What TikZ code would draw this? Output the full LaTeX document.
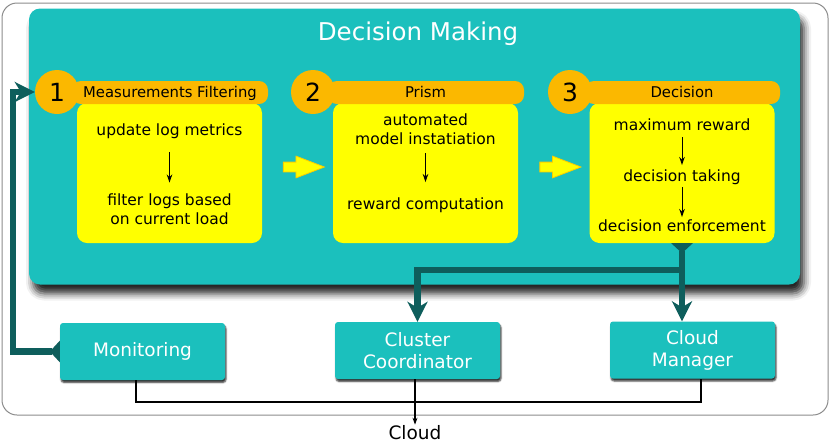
\documentclass[tikz,border=0pt]{standalone}
\usepackage{fontspec}
\setmainfont{DejaVu Sans}
\usetikzlibrary{arrows.meta, positioning, calc, shapes.arrows, shadows.blur}
\definecolor{dmteal}{HTML}{1BC0BD}
\definecolor{linkteal}{HTML}{0E5E5C}
\definecolor{stageyellow}{HTML}{FFFF00}
\definecolor{headorange}{HTML}{FBB800}
\definecolor{framegray}{HTML}{8C8C8C}

\begin{document}
\begin{tikzpicture}[x=1pt, y=-1pt,
  outerframe/.style={draw=framegray, line width=1pt, rounded corners=15pt, minimum width=826pt, minimum height=412pt, inner sep=0pt},
  dmbox/.style={fill=dmteal, rounded corners=11pt, minimum width=771pt, minimum height=276pt, inner sep=0pt,
    blur shadow={shadow xshift=4pt, shadow yshift=-9pt, shadow blur radius=7pt, shadow opacity=85}},
  dmtitle/.style={text=white, font=\fontsize{24.5}{29}\selectfont, anchor=base},
  stagebox/.style={fill=stageyellow, rounded corners=10pt, minimum width=185pt, minimum height=140pt, inner sep=0pt},
  headbar/.style={fill=headorange, rounded corners=9pt, minimum height=23pt, inner sep=0pt},
  numcircle/.style={circle, fill=headorange, minimum size=44pt, inner sep=0pt, font=\fontsize{25}{30}\selectfont},
  headtext/.style={font=\fontsize{14.8}{18}\selectfont, anchor=base, inner sep=0pt},
  steptext/.style={font=\fontsize{15.5}{18.5}\selectfont, align=center, anchor=base, inner sep=0pt},
  stepflow/.style={-{Stealth[length=8pt, width=5.5pt]}, line width=1pt},
  fatarrow/.style={single arrow, fill=stageyellow, draw=headorange!70!stageyellow, line width=0.8pt,
    text height=4.5pt, text depth=4.5pt, minimum height=41pt, single arrow head extend=6pt,
    single arrow tip angle=42, inner sep=0pt},
  unitbox/.style={fill=dmteal, rounded corners=3pt, minimum width=165pt, minimum height=57pt, text=white, align=center,
    font=\fontsize{18.5}{22}\selectfont,
    blur shadow={shadow xshift=1pt, shadow yshift=-2.5pt, shadow blur radius=1.5pt, shadow opacity=80}},
  bigconn/.style={draw=linkteal, line width=6.5pt},
  headtip/.style={-{Stealth[length=20pt, width=20pt, inset=6pt]}},
  tailtip/.style={{Triangle[reversed, length=10pt, width=21pt]}-{Stealth[length=20pt, width=20pt, inset=6pt]}},
  busline/.style={line width=1.3pt},
  cloudtext/.style={font=\fontsize{18.5}{22}\selectfont, inner sep=1pt}
]
  \useasboundingbox (0,0) rectangle (830,445);
  \node[outerframe] (frame) at (415,209) {};
  \node[dmbox] (dm) at (414.5,146.5) {};
  \node[dmtitle] (dmt) at (418,40) {Decision Making};

  % stage 1
  \node[stagebox] (box1) at (169.5,173) {};
  \node[headbar, minimum width=196pt] (bar1) at (170,92.5) {};
  \node[numcircle] (c1) at (57,92) {1};
  \node[headtext] (h1) at (170,97) {Measurements Filtering};
  \node[steptext] (t11) at (169.5,135) {update log metrics};
  \node[steptext] (t12) at (169.5,224) {filter logs based\\on current load};
  \draw[stepflow, shorten <=14pt, shorten >=11pt] (t11) -- (t12);

  % stage 2
  \node[stagebox] (box2) at (425.5,173) {};
  \node[headbar, minimum width=196pt] (bar2) at (426,92.5) {};
  \node[numcircle] (c2) at (313,92) {2};
  \node[headtext] (h2) at (425.5,97) {Prism};
  \node[steptext] (t21) at (425.5,144) {automated\\model instatiation};
  \node[steptext] (t22) at (425.5,209) {reward computation};
  \draw[stepflow, shorten <=9pt, shorten >=15pt] (t21) -- (t22);

  % stage 3
  \node[stagebox] (box3) at (682,173) {};
  \node[headbar, minimum width=195pt] (bar3) at (682.5,92.5) {};
  \node[numcircle] (c3) at (570,92) {3};
  \node[headtext] (h3) at (682,97) {Decision};
  \node[steptext] (t31) at (682,130) {maximum reward};
  \node[steptext] (t32) at (682,181) {decision taking};
  \node[steptext] (t33) at (682,231) {decision enforcement};
  \draw[stepflow, shorten <=7pt, shorten >=4pt] (t31) -- (t32);
  \draw[stepflow, shorten <=3pt, shorten >=2pt] (t32) -- (t33);

  \node[fatarrow] (fa1) at (297.5,167) {};
  \node[fatarrow] (fa2) at (554,167) {};

  \node[unitbox] (mon) at (142.5,351.5) {Monitoring};
  \node[unitbox] (cc) at (417.5,350.5) {Cluster\\Coordinator};
  \node[unitbox] (cm) at (692.5,350) {Cloud\\Manager};
  \node[cloudtext] (cloud) at (415,433) {Cloud};

  \coordinate (split) at ($(box3.south)+(0,27)$);
  \coordinate (leftrail) at (13,220);
  \draw[bigconn, tailtip] (box3.south) -- (box3.south |- cm.north);
  \draw[bigconn, headtip] (split) -| (cc.north);
  \draw[bigconn, tailtip] (mon.west) -- (mon.west -| leftrail) |- (c1.west);

  \coordinate (busjoin) at (415,402);
  \draw[busline] ([xshift=-6.5pt]mon.south) |- (busjoin) -| ([xshift=8.5pt]cm.south);
  \draw[busline, -{Stealth[length=7pt, width=5pt]}] ([xshift=-2.5pt]cc.south) -- (cloud.north);
\end{tikzpicture}
\end{document}
